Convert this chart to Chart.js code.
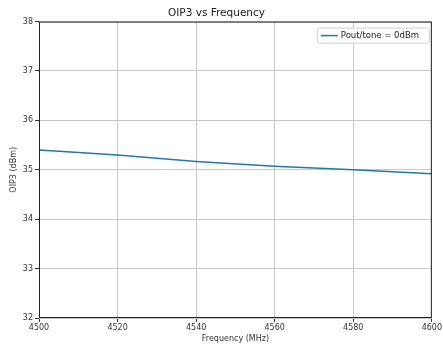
<!DOCTYPE html>
<html>
<head>
<meta charset="utf-8">
<script src="https://cdn.jsdelivr.net/npm/chart.js@4/dist/chart.umd.min.js"></script>
<style>
  html, body { margin: 0; padding: 0; background: #fff; }
  #wrap { width: 443px; height: 344px; }
</style>
</head>
<body>
<div id="wrap"><canvas id="oip3Chart"></canvas></div>
<script>
// data
const freqs = [4500, 4520, 4540, 4560, 4580, 4600];
const oip3 = [35.40, 35.30, 35.17, 35.07, 35.00, 34.92];
const seriesLabel = 'Pout/tone = 0dBm';
const xTicks = [4500, 4520, 4540, 4560, 4580, 4600];
const yTicks = [32, 33, 34, 35, 36, 37, 38];

Chart.defaults.font.family = '"DejaVu Sans", sans-serif';
Chart.defaults.color = '#333';

// frame round the plot + legend box in the upper right corner
const framePlugin = {
    id: 'frame',
    afterDraw(chart) {
        const ctx = chart.ctx;
        const a = chart.chartArea;
        ctx.save();
        ctx.strokeStyle = '#222';
        ctx.lineWidth = 1;
        ctx.strokeRect(a.left + 0.5, a.top + 0.5, a.right - a.left - 1, a.bottom - a.top - 1);

        // legend
        const w = 112, h = 15;
        const x = a.right - w - 3, y = a.top + 6;
        ctx.fillStyle = 'rgba(255,255,255,0.85)';
        ctx.strokeStyle = '#d0d0d0';
        ctx.beginPath();
        ctx.roundRect(x + 0.5, y + 0.5, w, h, 2);
        ctx.fill();
        ctx.stroke();
        ctx.strokeStyle = '#1f77b4';
        ctx.lineWidth = 1.5;
        ctx.beginPath();
        ctx.moveTo(x + 4, y + h / 2 + 0.5);
        ctx.lineTo(x + 21, y + h / 2 + 0.5);
        ctx.stroke();
        ctx.fillStyle = '#222';
        ctx.font = '8.5px "DejaVu Sans", sans-serif';
        ctx.textBaseline = 'middle';
        ctx.fillText(seriesLabel, x + 24, y + h / 2 + 1);
        ctx.restore();
    }
};

const plainNumber = v => String(v);

new Chart(document.getElementById('oip3Chart'), {
    type: 'line',
    data: {
        datasets: [{
            label: seriesLabel,
            data: freqs.map((f, i) => ({ x: f, y: oip3[i] })),
            borderColor: '#1f77b4',
            borderWidth: 1.5,
            pointRadius: 0,
            tension: 0,
            fill: false
        }]
    },
    options: {
        responsive: true,
        maintainAspectRatio: false,
        animation: false,
        layout: { padding: { left: 0, right: 10, top: 0, bottom: 0 } },
        plugins: {
            legend: { display: false },
            tooltip: { enabled: false },
            title: {
                display: true,
                text: 'OIP3 vs Frequency',
                color: '#222',
                font: { size: 10.5, weight: 'normal' },
                padding: { top: 7, bottom: 2 }
            }
        },
        scales: {
            x: {
                type: 'linear',
                min: 4500,
                max: 4600,
                afterBuildTicks: axis => { axis.ticks = xTicks.map(v => ({ value: v })); },
                afterFit: axis => { axis.height = 26; },
                grid: { color: '#c8c8c8', lineWidth: 1, tickLength: 4, tickColor: '#333' },
                border: { display: false },
                ticks: { font: { size: 8 }, color: '#333', padding: 1, maxRotation: 0, callback: plainNumber },
                title: {
                    display: true,
                    text: 'Frequency (MHz)',
                    font: { size: 8 },
                    color: '#333',
                    padding: { top: 0, bottom: 0 }
                }
            },
            y: {
                min: 32,
                max: 38,
                afterBuildTicks: axis => { axis.ticks = yTicks.map(v => ({ value: v })); },
                afterFit: axis => { axis.width = 39; },
                grid: { color: '#c8c8c8', lineWidth: 1, tickLength: 4, tickColor: '#333' },
                border: { display: false },
                ticks: { font: { size: 8 }, color: '#333', padding: 2, callback: plainNumber },
                title: {
                    display: true,
                    text: 'OIP3 (dBm)',
                    font: { size: 8 },
                    color: '#333',
                    padding: { top: 9, bottom: 0 }
                }
            }
        }
    },
    plugins: [framePlugin]
});
</script>
</body>
</html>
